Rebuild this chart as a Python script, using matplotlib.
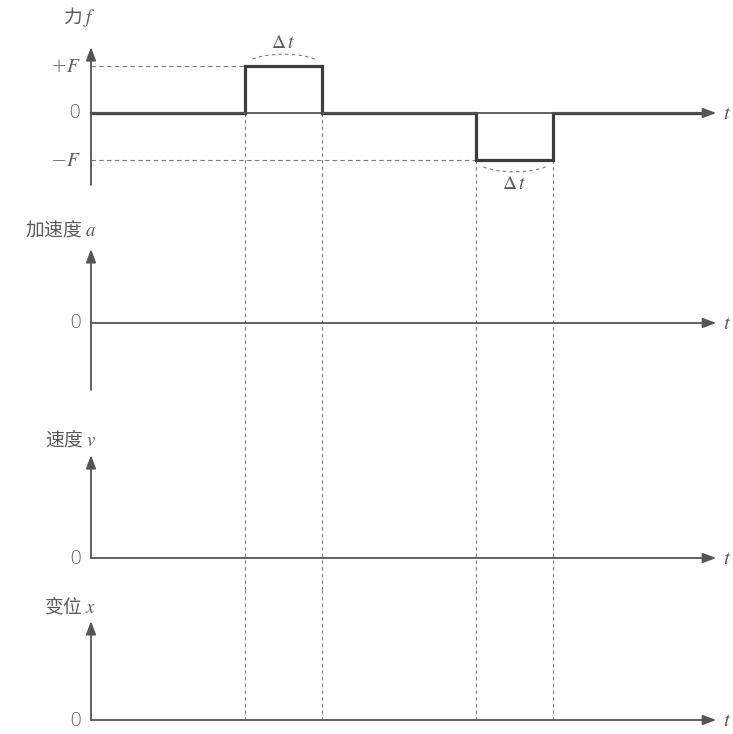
import numpy as np
import matplotlib.pyplot as plt
from matplotlib.patches import Arc

plt.rcParams['font.family'] = ['Noto Sans CJK SC', 'DejaVu Sans']
plt.rcParams['mathtext.fontset'] = 'stix'

# time in units of the pulse width dt
force_t = [0, 2, 3, 5, 6, 8.0]
force_v = [0, 1, 0, -1, 0, 0]
pulse_start = [2, 5]
pulse_sign = [1, -1]
dt = 1.0
t_end = 8.12

panel_labels = ['力 $f$', '加速度 $a$', '速度 $v$', '变位 $x$']
force_ticks = [1, 0, -1]
force_ticklabels = ['+$F$', '0', '−$F$']

# panel pixel bands (top, bottom), zero line, arrow tip, axis bottom, label y
bands = [(0, 200), (200, 420), (420, 590), (590, 734)]
zero_px = [113, 323, 558, 720]
tip_px = [47, 249, 455, 621]
low_px = [185, 390, 558, 720]
label_px = [17, 230, 440, 607]

W, H = 733, 734
ppu_x, ppu_y = 77.0, 47.0
x0_px = 91

axis_c = '#555555'
dash_c = '#7a7a7a'
text_c = '#5a5a5a'
arrow = '-|>,head_length=0.8,head_width=0.3'

fig = plt.figure(figsize=(W / 100, H / 100), dpi=100)
axes = []
for i, (top, bot) in enumerate(bands):
    ax = fig.add_axes([0, 1 - bot / H, 1, (bot - top) / H])
    ax.set_xlim(-x0_px / ppu_x, (W - x0_px) / ppu_x)
    ax.set_ylim(-(bot - zero_px[i]) / ppu_y, (zero_px[i] - top) / ppu_y)
    ax.axis('off')
    axes.append(ax)

    ytip = (zero_px[i] - tip_px[i]) / ppu_y
    ylow = -(low_px[i] - zero_px[i]) / ppu_y
    # vertical axis
    ax.annotate('', xy=(0, ytip), xytext=(0, ylow),
                arrowprops=dict(arrowstyle=arrow, color=axis_c, lw=1.3,
                                shrinkA=0, shrinkB=0))
    # time axis
    ax.annotate('', xy=(t_end, 0), xytext=(0, 0),
                arrowprops=dict(arrowstyle=arrow, color=axis_c, lw=1.3,
                                shrinkA=0, shrinkB=0))
    ax.text(t_end + 0.09, 0, '$t$', fontsize=15, color=text_c, va='center', ha='left')
    ax.text(0.07, (zero_px[i] - label_px[i]) / ppu_y, panel_labels[i],
            fontsize=13.5, color=text_c, ha='right', va='center')
    if i > 0:
        ax.text(-0.12, 0, '0', fontsize=14, color=text_c, ha='right', va='center',
                family='DejaVu Sans', fontweight='light')

    # dashed guide lines through the pulse edges
    ybot, ytop = ax.get_ylim()
    for s, sg in zip(pulse_start, pulse_sign):
        for tt in (s, s + dt):
            if i == 0:
                ys = [min(0, sg), ybot]
            elif i == 3:
                ys = [ytop, 0]
            else:
                ys = [ytop, ybot]
            ax.plot([tt, tt], ys, ls=(0, (3, 3)), color=dash_c, lw=0.8)

ax = axes[0]
for v, lab in zip(force_ticks, force_ticklabels):
    ax.text(-0.13, v, lab, fontsize=14, color=text_c, ha='right', va='center',
            family='DejaVu Sans', fontweight='light')
for s, sg in zip(pulse_start, pulse_sign):
    ax.plot([0, s], [sg, sg], ls=(0, (4, 3)), color=dash_c, lw=0.8)
    arc_theta = (20, 160) if sg > 0 else (200, 340)
    ax.add_patch(Arc((s + dt / 2, sg), dt, 0.5, theta1=arc_theta[0], theta2=arc_theta[1],
                     ls=(0, (3, 3)), color=dash_c, lw=0.8))
    ax.text(s + dt / 2, sg + sg * 0.5, r'$\Delta\,t$', fontsize=14, color=text_c,
            ha='center', va='center')

ax.plot(force_t, force_v, drawstyle='steps-post', color='#3c3c3c', lw=2.3,
        solid_joinstyle='miter')

fig.savefig('out.png', dpi=100)
